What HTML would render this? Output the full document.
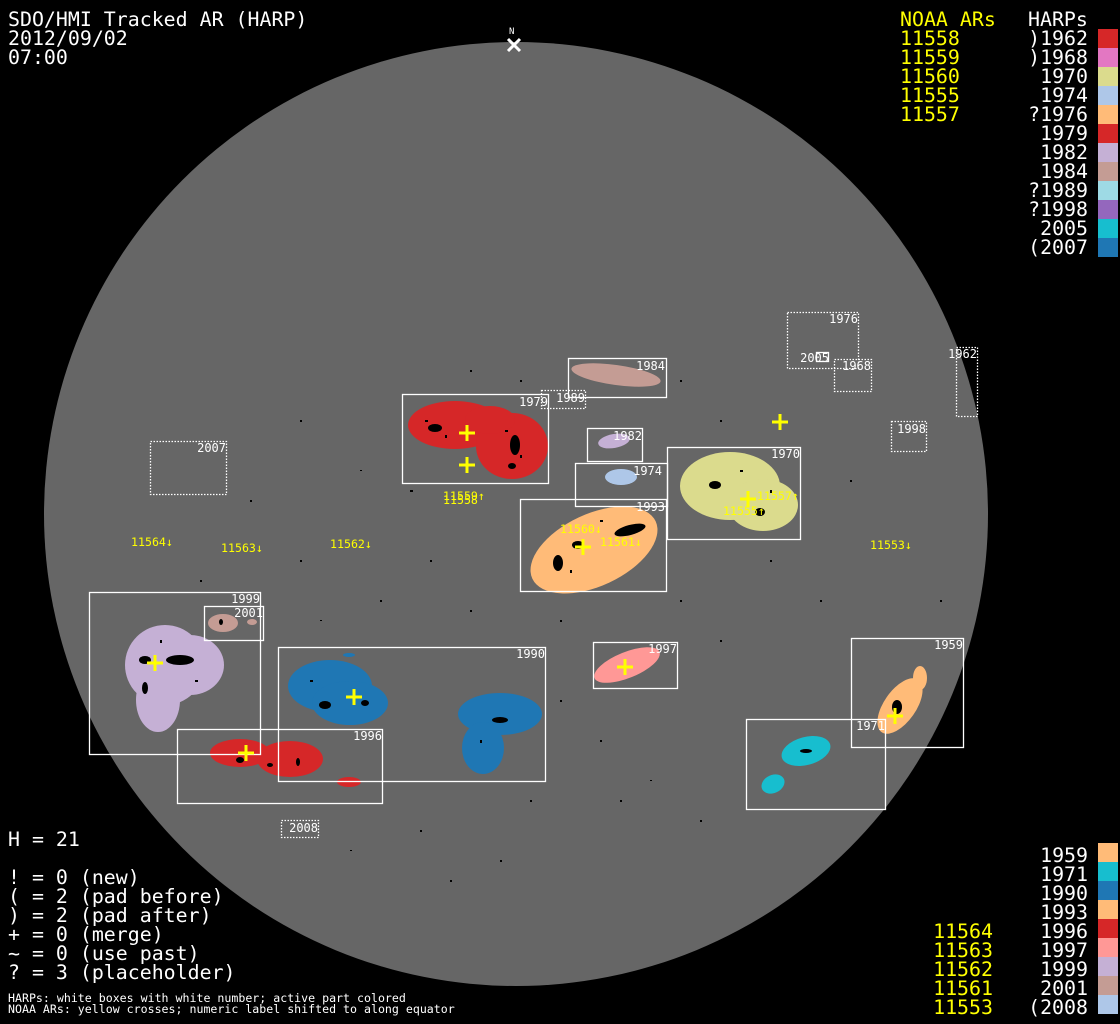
<!DOCTYPE html>
<html><head><meta charset="utf-8"><style>
html,body{margin:0;padding:0;background:#000;}
svg{display:block;}
.t{font-family:"DejaVu Sans Mono","Liberation Mono",monospace;font-size:19.9px;fill:#fff;}
.y{fill:#ffff00;}
.s{font-family:"DejaVu Sans Mono","Liberation Mono",monospace;font-size:12px;fill:#fff;}
.sy{font-family:"DejaVu Sans Mono","Liberation Mono",monospace;font-size:11.6px;fill:#ffff00;}
.b{fill:none;stroke:#fff;stroke-width:1.3;}
.d{fill:none;stroke:#fff;stroke-width:1.3;stroke-dasharray:1.5 1.5;}
.x{stroke:#ffff00;stroke-width:3;}
.k{fill:#000;}
</style></head><body>
<svg width="1120" height="1024" viewBox="0 0 1120 1024" xmlns="http://www.w3.org/2000/svg">
<rect width="1120" height="1024" fill="#000"/>
<circle cx="516" cy="514" r="472" fill="#666666"/>

<!-- scattered dots -->
<g class="k">
<rect x="300" y="420" width="2" height="2"/><rect x="360" y="470" width="2" height="1"/><rect x="250" y="500" width="2" height="2"/><rect x="410" y="490" width="3" height="2"/><rect x="430" y="560" width="2" height="2"/><rect x="380" y="600" width="2" height="2"/><rect x="320" y="620" width="2" height="1"/><rect x="470" y="610" width="2" height="2"/><rect x="680" y="600" width="2" height="2"/><rect x="720" y="640" width="2" height="2"/><rect x="560" y="700" width="2" height="2"/><rect x="600" y="740" width="2" height="2"/><rect x="650" y="780" width="2" height="1"/><rect x="700" y="820" width="2" height="2"/><rect x="420" y="830" width="2" height="2"/><rect x="500" y="860" width="2" height="2"/><rect x="350" y="850" width="2" height="1"/><rect x="820" y="600" width="2" height="2"/><rect x="850" y="480" width="2" height="2"/><rect x="720" y="420" width="2" height="2"/><rect x="680" y="380" width="2" height="2"/><rect x="520" y="380" width="2" height="2"/><rect x="470" y="370" width="2" height="2"/><rect x="300" y="560" width="2" height="2"/><rect x="200" y="580" width="2" height="2"/><rect x="560" y="620" width="2" height="2"/><rect x="770" y="560" width="2" height="2"/><rect x="940" y="600" width="2" height="2"/><rect x="620" y="800" width="2" height="2"/><rect x="530" y="800" width="2" height="2"/><rect x="450" y="880" width="2" height="2"/>
</g>

<!-- colored active regions -->
<g>
<ellipse cx="455" cy="425" rx="47" ry="24" fill="#d62728"/>
<ellipse cx="512" cy="446" rx="36" ry="33" fill="#d62728"/>
<ellipse cx="490" cy="420" rx="25" ry="14" fill="#d62728"/>
<ellipse cx="616" cy="375" rx="45" ry="10" transform="rotate(8 616 375)" fill="#c49c94"/>
<ellipse cx="614" cy="441" rx="16" ry="7" transform="rotate(-10 614 441)" fill="#c5b0d5"/>
<ellipse cx="621" cy="477" rx="16" ry="8" fill="#aec7e8"/>
<ellipse cx="594" cy="550" rx="68" ry="36" transform="rotate(-25 594 550)" fill="#ffbb78"/>
<ellipse cx="730" cy="486" rx="50" ry="34" fill="#dbdb8d"/>
<ellipse cx="763" cy="505" rx="35" ry="26" fill="#dbdb8d"/>
<ellipse cx="165" cy="665" rx="40" ry="40" fill="#c5b0d5"/>
<ellipse cx="190" cy="665" rx="34" ry="30" fill="#c5b0d5"/>
<ellipse cx="158" cy="700" rx="22" ry="32" fill="#c5b0d5"/>
<ellipse cx="223" cy="623" rx="15" ry="9" fill="#c49c94"/>
<ellipse cx="252" cy="622" rx="5" ry="3" fill="#c49c94"/>
<ellipse cx="330" cy="686" rx="42" ry="26" fill="#1f77b4"/>
<ellipse cx="350" cy="703" rx="38" ry="22" fill="#1f77b4"/>
<ellipse cx="349" cy="655" rx="6" ry="2" fill="#1f77b4"/>
<ellipse cx="500" cy="714" rx="42" ry="21" fill="#1f77b4"/>
<ellipse cx="483" cy="748" rx="21" ry="26" fill="#1f77b4"/>
<ellipse cx="240" cy="753" rx="30" ry="14" fill="#d62728"/>
<ellipse cx="290" cy="759" rx="33" ry="18" fill="#d62728"/>
<ellipse cx="349" cy="782" rx="12" ry="5" fill="#d62728"/>
<ellipse cx="627" cy="665" rx="35" ry="13" transform="rotate(-22 627 665)" fill="#ff9896"/>
<ellipse cx="900" cy="706" rx="16" ry="32" transform="rotate(35 900 706)" fill="#ffbb78"/>
<ellipse cx="920" cy="678" rx="7" ry="12" fill="#ffbb78"/>
<ellipse cx="806" cy="751" rx="25" ry="14" transform="rotate(-15 806 751)" fill="#17becf"/>
<ellipse cx="773" cy="784" rx="12" ry="9" transform="rotate(-25 773 784)" fill="#17becf"/>
</g>

<!-- black umbra speckles -->
<g class="k">
<ellipse cx="435" cy="428" rx="7" ry="4"/><rect x="425" y="420" width="3" height="2"/><rect x="445" y="435" width="2" height="3"/>
<ellipse cx="515" cy="445" rx="5" ry="10"/><rect x="505" y="430" width="3" height="2"/><ellipse cx="512" cy="466" rx="4" ry="3"/><rect x="520" y="455" width="2" height="3"/>
<ellipse cx="630" cy="530" rx="16" ry="5" transform="rotate(-15 630 530)"/><ellipse cx="558" cy="563" rx="5" ry="8"/><ellipse cx="578" cy="545" rx="6" ry="4"/><rect x="600" y="520" width="3" height="2"/><rect x="570" y="570" width="2" height="3"/>
<ellipse cx="715" cy="485" rx="6" ry="4"/><ellipse cx="760" cy="512" rx="5" ry="4"/><rect x="740" y="470" width="3" height="2"/><rect x="770" y="490" width="2" height="3"/>
<ellipse cx="180" cy="660" rx="14" ry="5"/><ellipse cx="145" cy="660" rx="6" ry="4"/><ellipse cx="145" cy="688" rx="3" ry="6"/><rect x="160" y="640" width="2" height="3"/><rect x="195" y="680" width="3" height="2"/>
<ellipse cx="325" cy="705" rx="6" ry="4"/><ellipse cx="365" cy="703" rx="4" ry="3"/><ellipse cx="500" cy="720" rx="8" ry="3"/><rect x="310" y="680" width="3" height="2"/><rect x="480" y="740" width="2" height="3"/>
<ellipse cx="240" cy="760" rx="4" ry="3"/><ellipse cx="270" cy="765" rx="3" ry="2"/><ellipse cx="298" cy="762" rx="2" ry="4"/>
<ellipse cx="897" cy="707" rx="5" ry="7"/><ellipse cx="806" cy="751" rx="6" ry="2"/><ellipse cx="221" cy="622" rx="2" ry="3"/>
</g>

<!-- HARP boxes -->
<rect class="b" x="402.5" y="394.5" width="146" height="89"/>
<rect class="b" x="568.5" y="358.5" width="98" height="39"/>
<rect class="d" x="541.5" y="390.5" width="44" height="18"/>
<rect class="b" x="587.5" y="428.5" width="55" height="33"/>
<rect class="b" x="575.5" y="463.5" width="92" height="43"/>
<rect class="b" x="520.5" y="499.5" width="146" height="92"/>
<rect class="b" x="667.5" y="447.5" width="133" height="92"/>
<rect class="d" x="787.5" y="312.5" width="71" height="56"/>
<rect class="b" x="816.5" y="352.5" width="12" height="9"/>
<rect class="d" x="834.5" y="359.5" width="37" height="32"/>
<rect class="d" x="956.5" y="347.5" width="21" height="69"/>
<rect class="d" x="891.5" y="421.5" width="35" height="30"/>
<rect class="d" x="150.5" y="441.5" width="76" height="53"/>
<rect class="b" x="89.5" y="592.5" width="171" height="162"/>
<rect class="b" x="204.5" y="606.5" width="59" height="34"/>
<rect class="b" x="278.5" y="647.5" width="267" height="134"/>
<rect class="b" x="177.5" y="729.5" width="205" height="74"/>
<rect class="b" x="593.5" y="642.5" width="84" height="46"/>
<rect class="b" x="851.5" y="638.5" width="112" height="109"/>
<rect class="b" x="746.5" y="719.5" width="139" height="90"/>
<rect class="d" x="281.5" y="820.5" width="37" height="17"/>

<!-- box labels -->
<g class="s" text-anchor="end">
<text x="548" y="406">1979</text><text x="665" y="370">1984</text><text x="585" y="402">1989</text>
<text x="642" y="440">1982</text><text x="662" y="475">1974</text><text x="665" y="511">1993</text>
<text x="800" y="458">1970</text><text x="858" y="323">1976</text><text x="829" y="362">2005</text>
<text x="871" y="370">1968</text><text x="977" y="358">1962</text><text x="926" y="433">1998</text>
<text x="226" y="452">2007</text><text x="260" y="603">1999</text><text x="263" y="617">2001</text>
<text x="545" y="658">1990</text><text x="382" y="740">1996</text><text x="677" y="653">1997</text>
<text x="963" y="649">1959</text><text x="885" y="730">1971</text><text x="318" y="832">2008</text>
</g>

<!-- NOAA crosses -->
<g class="x">
<path d="M459 433h16M467 425v16"/><path d="M459 465h16M467 457v16"/><path d="M772 422h16M780 414v16"/>
<path d="M740 499h16M748 491v16"/><path d="M575 547h16M583 539v16"/><path d="M617 667h16M625 659v16"/>
<path d="M147 663h16M155 655v16"/><path d="M346 697h16M354 689v16"/><path d="M238 753h16M246 745v16"/>
<path d="M887 716h16M895 708v16"/>
</g>
<g class="sy">
<text x="443" y="504">11558</text><text x="443" y="500">11559↑</text>
<text x="131" y="546">11564↓</text><text x="221" y="552">11563↓</text><text x="330" y="548">11562↓</text>
<text x="870" y="549">11553↓</text><text x="560" y="533">11560↓</text><text x="600" y="546">11561↓</text>
<text x="757" y="500">11557↑</text><text x="723" y="515">11555↑</text>
</g>

<!-- North marker -->
<text x="509" y="34" style="font-family:'DejaVu Sans Mono',monospace;font-size:9px;fill:#fff">N</text>
<path d="M508 39l12 12M520 39l-12 12" stroke="#fff" stroke-width="3"/>

<text class="t" x="8" y="26">SDO/HMI Tracked AR (HARP)</text>
<text class="t" x="8" y="45">2012/09/02</text>
<text class="t" x="8" y="64">07:00</text>

<text class="t y" x="900" y="26">NOAA ARs</text>
<text class="t" x="1028" y="26">HARPs</text>
<g class="t y">
<text x="900" y="45">11558</text><text x="900" y="64">11559</text><text x="900" y="83">11560</text><text x="900" y="102">11555</text><text x="900" y="121">11557</text>
</g>
<g class="t" text-anchor="end">
<text x="1088" y="45">)1962</text><text x="1088" y="64">)1968</text><text x="1088" y="83">1970</text><text x="1088" y="102">1974</text>
<text x="1088" y="121">?1976</text><text x="1088" y="140">1979</text><text x="1088" y="159">1982</text><text x="1088" y="178">1984</text>
<text x="1088" y="197">?1989</text><text x="1088" y="216">?1998</text><text x="1088" y="235">2005</text><text x="1088" y="254">(2007</text>
</g>
<rect x="1098" y="29" width="20" height="19" fill="#d62728"/>
<rect x="1098" y="48" width="20" height="19" fill="#e377c2"/>
<rect x="1098" y="67" width="20" height="19" fill="#dbdb8d"/>
<rect x="1098" y="86" width="20" height="19" fill="#aec7e8"/>
<rect x="1098" y="105" width="20" height="19" fill="#ffbb78"/>
<rect x="1098" y="124" width="20" height="19" fill="#d62728"/>
<rect x="1098" y="143" width="20" height="19" fill="#c5b0d5"/>
<rect x="1098" y="162" width="20" height="19" fill="#c49c94"/>
<rect x="1098" y="181" width="20" height="19" fill="#9edae5"/>
<rect x="1098" y="200" width="20" height="19" fill="#9467bd"/>
<rect x="1098" y="219" width="20" height="19" fill="#17becf"/>
<rect x="1098" y="238" width="20" height="19" fill="#1f77b4"/>

<g class="t" text-anchor="end">
<text x="1088" y="862">1959</text><text x="1088" y="881">1971</text><text x="1088" y="900">1990</text><text x="1088" y="919">1993</text>
<text x="1088" y="938">1996</text><text x="1088" y="957">1997</text><text x="1088" y="976">1999</text><text x="1088" y="995">2001</text>
<text x="1088" y="1014">(2008</text>
</g>
<g class="t y" text-anchor="end">
<text x="993" y="938">11564</text><text x="993" y="957">11563</text><text x="993" y="976">11562</text><text x="993" y="995">11561</text><text x="993" y="1014">11553</text>
</g>
<rect x="1098" y="843" width="20" height="19" fill="#ffbb78"/>
<rect x="1098" y="862" width="20" height="19" fill="#17becf"/>
<rect x="1098" y="881" width="20" height="19" fill="#1f77b4"/>
<rect x="1098" y="900" width="20" height="19" fill="#ffbb78"/>
<rect x="1098" y="919" width="20" height="19" fill="#d62728"/>
<rect x="1098" y="938" width="20" height="19" fill="#ff9896"/>
<rect x="1098" y="957" width="20" height="19" fill="#c5b0d5"/>
<rect x="1098" y="976" width="20" height="19" fill="#c49c94"/>
<rect x="1098" y="995" width="20" height="19" fill="#aec7e8"/>

<text class="t" x="8" y="846">H = 21</text>
<text class="t" x="8" y="884">! = 0 (new)</text>
<text class="t" x="8" y="903">( = 2 (pad before)</text>
<text class="t" x="8" y="922">) = 2 (pad after)</text>
<text class="t" x="8" y="941">+ = 0 (merge)</text>
<text class="t" x="8" y="960">~ = 0 (use past)</text>
<text class="t" x="8" y="979">? = 3 (placeholder)</text>
<text x="8" y="1002" style="font-family:'DejaVu Sans Mono',monospace;font-size:11.6px;fill:#fff">HARPs: white boxes with white number; active part colored</text>
<text x="8" y="1013" style="font-family:'DejaVu Sans Mono',monospace;font-size:11.6px;fill:#fff">NOAA ARs: yellow crosses; numeric label shifted to along equator</text>
</svg>
</body></html>
